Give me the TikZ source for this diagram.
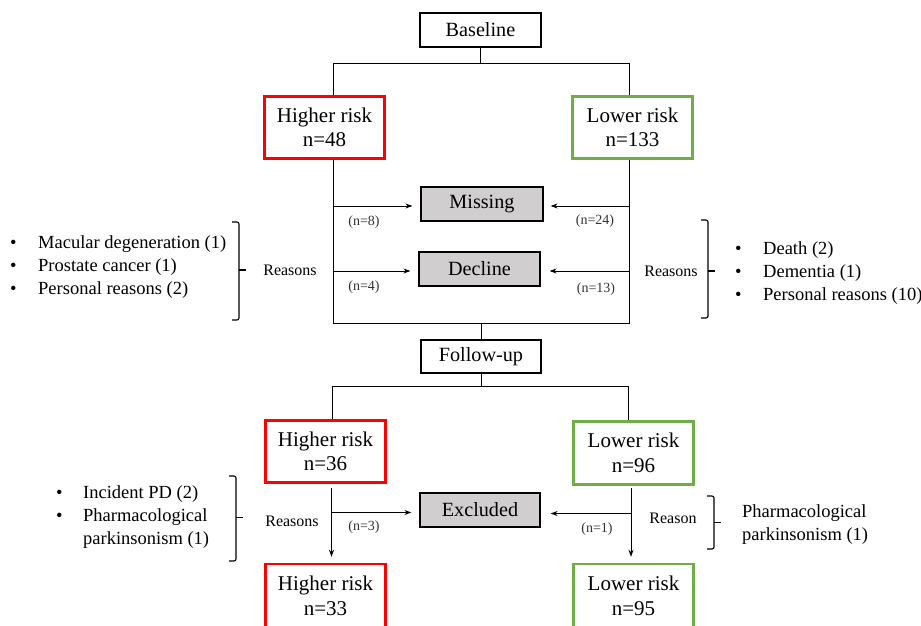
\documentclass[tikz,border=0pt]{standalone}
\usepackage{fontspec}
\setmainfont{Liberation Serif}
\usetikzlibrary{arrows.meta}
\definecolor{hred}{HTML}{FF0000}
\definecolor{lgreen}{HTML}{70AD47}
\definecolor{boxgray}{HTML}{D0CECE}
\begin{document}
\begin{tikzpicture}[x=1pt,y=-1pt,
  stagebox/.style={draw=black, line width=1.2pt, fill=white, minimum width=121pt, minimum height=34pt, inner sep=0pt, font=\fontsize{20.2}{24}\selectfont},
  graybox/.style={stagebox, fill=boxgray},
  riskbox/.style={draw, line width=2.4pt, fill=white, minimum width=120pt, minimum height=62pt, inner sep=0pt, align=center, font=\fontsize{21}{24.5}\selectfont},
  hibox/.style={riskbox, draw=hred},
  lobox/.style={riskbox, draw=lgreen},
  conn/.style={line width=0.9pt},
  arr/.style={conn, -{Stealth[length=7pt,width=5pt]}},
  nlab/.style={font=\fontsize{14}{16}\selectfont, text=black!80},
  rlab/.style={font=\fontsize{16}{18}\selectfont},
  listtxt/.style={font=\fontsize{18.5}{23}\selectfont, align=left, anchor=west, inner sep=0pt},
  bracket/.style={line width=1.1pt, rounded corners=2pt}
]
\useasboundingbox (0,0) rectangle (921,626);

% ---------- baseline part ----------
\node[stagebox] (B) at (480.5,30) {Baseline};
\node[hibox] (H48) at (324.5,127.5) {Higher risk\\n=48};
\node[lobox] (L133) at (632.5,127.5) {Lower risk\\n=133};
\node[graybox, minimum width=122pt] (Mis) at (482,204) {Missing};
\node[graybox] (Dec) at (479.5,269) {Decline};

\coordinate (tl) at (333,63);
\coordinate (tr) at (629,63);
\coordinate (bl) at (333,323);
\coordinate (br) at (629,323);

\draw[conn] (B.south) -- (B.south |- tl);
\draw[conn] (tl) -- (tr);
\draw[conn] (tl) -- (tl |- H48.north);
\draw[conn] (tr) -- (tr |- L133.north);
\draw[conn] (tl |- H48.south) -- (bl) -- (br) -- (tr |- L133.south);

\coordinate (m1) at (333,206);
\coordinate (m2) at (629,206);
\coordinate (d1) at (333,271);
\coordinate (d2) at (629,271);
\draw[arr, shorten >=8pt] (m1) -- (m1 -| Mis.west);
\draw[arr, shorten >=7pt] (m2) -- (m2 -| Mis.east);
\draw[arr, shorten >=8pt] (d1) -- (d1 -| Dec.west);
\draw[arr, shorten >=9pt] (d2) -- (d2 -| Dec.east);

\node[nlab] (n8) at (364,222) {(n=8)};
\node[nlab] (n24) at (595,221) {(n=24)};
\node[nlab] (n4) at (364,287) {(n=4)};
\node[nlab] (n13) at (596,289) {(n=13)};

\node[rlab] (rl1) at (290,270) {Reasons};
\node[rlab] (rr1) at (671,271) {Reasons};

\draw[bracket] (232,222) -- (239,222) -- (239,320) -- (232,320);
\draw[line width=1.1pt] (239,270) -- (246,270);
\draw[bracket] (701,220) -- (708,220) -- (708,318) -- (701,318);
\draw[line width=1.1pt] (708,271) -- (715,271);

\node[listtxt] (ll1) at (10,267) {\makebox[28pt][l]{•}Macular degeneration (1)\\\makebox[28pt][l]{•}Prostate cancer (1)\\\makebox[28pt][l]{•}Personal reasons (2)};
\node[listtxt] (rl) at (735,273) {\makebox[28pt][l]{•}Death (2)\\\makebox[28pt][l]{•}Dementia (1)\\\makebox[28pt][l]{•}Personal reasons (10)};

% ---------- follow-up part ----------
\node[stagebox, minimum width=120pt, minimum height=33pt] (F) at (481,356.5) {Follow-up};
\draw[conn] (F.north) -- (F.north |- bl);

\node[hibox] (H36) at (325.5,451.5) {Higher risk\\n=36};
\node[lobox, minimum height=63pt] (L96) at (633.5,453) {Lower risk\\n=96};
\node[graybox, minimum width=120pt] (Exc) at (480,510) {Excluded};
\node[hibox, minimum height=64pt] (H33) at (325.5,596) {Higher risk\\n=33};
\node[lobox, minimum height=64pt] (L95) at (633.5,596) {Lower risk\\n=95};

\coordinate (ftl) at (332,386);
\coordinate (ftr) at (628,386);
\draw[conn] (F.south) -- (F.south |- ftl);
\draw[conn] (ftl) -- (ftr);
\draw[conn] (ftl) -- (ftl |- H36.north);
\draw[conn] (ftr) -- (ftr |- L96.north);

\coordinate (v1) at (331.5,488);
\coordinate (v2) at (631,488);
\draw[arr, shorten >=6pt] (v1) -- (v1 |- H33.north);
\draw[arr, shorten >=6pt] (v2) -- (v2 |- L95.north);
\coordinate (e1) at (331.5,512.5);
\coordinate (e2) at (631,513.5);
\draw[arr, shorten >=8pt] (e1) -- (e1 -| Exc.west);
\draw[arr, shorten >=10pt] (e2) -- (e2 -| Exc.east);

\node[nlab] (n3) at (364,527) {(n=3)};
\node[nlab] (n1) at (597,529) {(n=1)};
\node[rlab] (rl2) at (292,521) {Reasons};
\node[rlab] (rr2) at (673,518) {Reason};

\draw[bracket] (229,476) -- (236,476) -- (236,561) -- (229,561);
\draw[line width=1.1pt] (236,517.5) -- (243,517.5);
\draw[bracket] (707,496) -- (714,496) -- (714,549) -- (707,549);
\draw[line width=1.1pt] (714,522.5) -- (721,522.5);

\node[listtxt] (ll2) at (56,517) {\makebox[27pt][l]{•}Incident PD (2)\\\makebox[27pt][l]{•}Pharmacological\\\makebox[27pt][l]{}parkinsonism (1)};
\node[listtxt] (rl3) at (742,524.5) {Pharmacological\\parkinsonism (1)};
\end{tikzpicture}
\end{document}
